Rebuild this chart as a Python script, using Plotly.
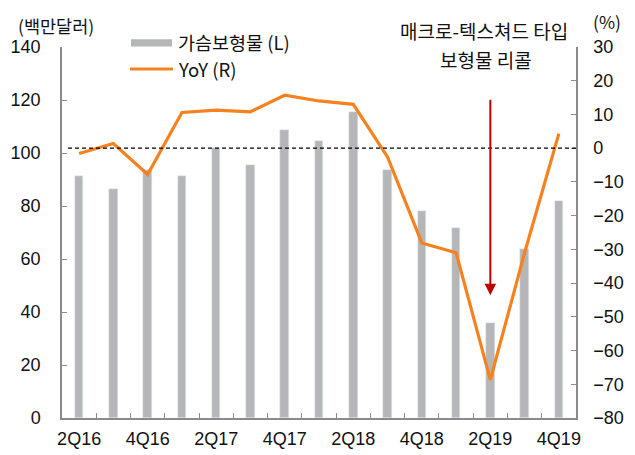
import plotly.graph_objects as go

quarters = ["2Q16", "3Q16", "4Q16", "1Q17", "2Q17", "3Q17", "4Q17", "1Q18",
            "2Q18", "3Q18", "4Q18", "1Q19", "2Q19", "3Q19", "4Q19"]
implants = [91.5, 86.3, 93.5, 91.5, 102.0, 95.6, 108.7, 104.4,
            115.4, 93.5, 78.3, 71.8, 35.7, 63.8, 81.8]
yoy = [-1.6, 1.4, -7.8, 10.6, 11.3, 10.8, 15.7, 14.0,
       13.0, -2.6, -28.1, -31.0, -68.7, -31.0, 4.3]
left_ticks = [0, 20, 40, 60, 80, 100, 120, 140]
right_ticks = [30, 20, 10, 0, -10, -20, -30, -40, -50, -60, -70, -80]

FONT = "Noto Sans CJK KR, Liberation Sans, sans-serif"
NUMFONT = "Liberation Sans, Arial, sans-serif"
GRAY_AX = "#8a8a8a"
BAR_C = "#B5B6B8"
LINE_C = "#F5821F"
RED = "#C00000"
TXT = "#111111"

W, H = 635, 455
L, R, T, B = 62, 59, 47, 37
PW, PH = W - L - R, H - T - B

def px(x):
    return (x - L) / PW

def py(y):
    return (H - B - y) / PH

xs = list(range(len(quarters)))

fig = go.Figure()
fig.add_trace(go.Bar(x=xs, y=implants, marker_color=BAR_C, width=0.25,
                     name="가슴보형물 (L)", showlegend=False, yaxis="y"))
fig.add_trace(go.Scatter(x=xs, y=yoy, mode="lines", line=dict(color=LINE_C, width=3.2),
                         name="YoY (R)", showlegend=False, yaxis="y2"))

tickfont = dict(family=NUMFONT, size=18, color=TXT)

fig.update_layout(
    width=W, height=H,
    margin=dict(l=L, r=R, t=T, b=B, autoexpand=False),
    paper_bgcolor="white", plot_bgcolor="white",
    font=dict(family=FONT, size=18, color=TXT),
    showlegend=False,
    xaxis=dict(range=[-0.5, len(quarters) - 0.5], tickmode="array",
               tickvals=xs[::2], ticktext=quarters[::2],
               ticks="inside", ticklen=5, tickcolor="rgba(0,0,0,0)",
               minor=dict(tick0=0.5, dtick=1, ticks="inside", ticklen=5,
                          tickcolor=GRAY_AX, tickwidth=1.2),
               showline=True, linecolor=GRAY_AX, linewidth=1.5,
               showgrid=False, zeroline=False, ticklabelstandoff=4,
               tickfont=tickfont, automargin=False),
    yaxis=dict(range=[0, 140], tickmode="array", tickvals=left_ticks,
               ticks="inside", ticklen=5, tickcolor=GRAY_AX, tickwidth=1.2,
               showline=True, linecolor=GRAY_AX, linewidth=1.5,
               showgrid=False, zeroline=False, ticklabelstandoff=16,
               tickfont=tickfont, automargin=False),
    yaxis2=dict(range=[-80, 30], overlaying="y", side="right",
                tickmode="array", tickvals=right_ticks,
                ticks="inside", ticklen=5, tickcolor=GRAY_AX, tickwidth=1.2,
                showline=True, linecolor=GRAY_AX, linewidth=1.5,
                showgrid=False, zeroline=False, ticklabelstandoff=12,
                tickfont=tickfont, automargin=False),
    bargap=0,
)

# zero line for YoY
fig.add_shape(type="line", xref="paper", yref="y2", x0=px(68), x1=1, y0=0, y1=0,
              line=dict(color="black", width=1.3, dash="4px,3px"), layer="above")

# manual legend
fig.add_shape(type="rect", xref="paper", yref="paper", x0=px(131), x1=px(172),
              y0=py(46.5), y1=py(39.3), fillcolor=BAR_C, line=dict(width=0))
fig.add_shape(type="line", xref="paper", yref="paper", x0=px(130), x1=px(173),
              y0=py(69), y1=py(69), line=dict(color=LINE_C, width=3.2))
fig.add_annotation(xref="paper", yref="paper", x=px(176), y=py(42.5), text="가슴보형물 (L)",
                   showarrow=False, xanchor="left", yanchor="middle", font=dict(size=18.5))
fig.add_annotation(xref="paper", yref="paper", x=px(176), y=py(69), text="YoY (R)",
                   showarrow=False, xanchor="left", yanchor="middle", font=dict(size=18.5))

# axis titles
fig.add_annotation(xref="paper", yref="paper", x=px(56), y=py(25), text="(백만달러)",
                   showarrow=False, xanchor="center", yanchor="middle", font=dict(size=17.5))
fig.add_annotation(xref="paper", yref="paper", x=px(607), y=py(21), text="(%)",
                   showarrow=False, xanchor="center", yanchor="middle", font=dict(size=17.5))

# callout
fig.add_annotation(xref="paper", yref="paper", x=px(484), y=py(31), text="매크로-텍스쳐드 타입",
                   showarrow=False, xanchor="center", yanchor="middle", font=dict(size=19))
fig.add_annotation(xref="paper", yref="paper", x=px(486), y=py(59), text="보형물 리콜",
                   showarrow=False, xanchor="center", yanchor="middle", font=dict(size=19))
fig.add_annotation(x=12, y=-43.6, xref="x", yref="y2", ax=12, ay=14.8, axref="x", ayref="y2",
                   showarrow=True, arrowhead=2, arrowsize=1.15, arrowwidth=2,
                   arrowcolor=RED, text="", standoff=0)

fig.write_html("out.html", config={"displayModeBar": False},
               post_script="document.body.style.margin='0px';document.body.style.overflow='hidden';")
